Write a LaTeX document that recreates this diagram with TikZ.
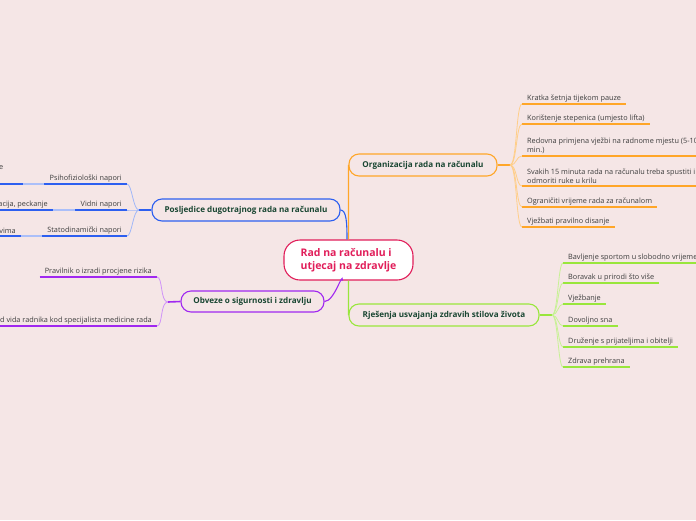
\documentclass[tikz,border=0pt]{standalone}
\usepackage{fontspec}
\setmainfont{Open Sans}
\usepackage{tikz}

\definecolor{bgpink}{RGB}{245,230,230}
\definecolor{orng}{RGB}{255,166,40}
\definecolor{lime}{RGB}{153,230,60}
\definecolor{blu}{RGB}{45,95,240}
\definecolor{purp}{RGB}{160,40,240}
\definecolor{crim}{RGB}{225,30,90}
\definecolor{topictxt}{RGB}{25,70,50}
\definecolor{leaftxt}{RGB}{60,60,60}

\begin{document}
\begin{tikzpicture}[x=1pt,y=-1pt]
    \tikzstyle{topic}=[draw, line width=1.1pt, rounded corners=10pt, minimum height=22pt, fill=bgpink, text=topictxt, font=\fontsize{8.1}{9}\selectfont\bfseries]
    \tikzstyle{leaf}=[inner xsep=5pt, inner ysep=2pt, text=leaftxt, font=\fontsize{7.3}{9.5}\selectfont]
    \tikzstyle{fan}=[line width=0.8pt]

    \useasboundingbox (0,0) rectangle (696,520);
    \clip (0,0) rectangle (696,520);
    \fill[bgpink] (0,0) rectangle (696,520);

    \node[draw=crim, fill=white, line width=1.1pt, rounded corners=16pt, minimum width=129pt, minimum height=40pt,
          text=crim, align=left, font=\fontsize{10.5}{13}\selectfont\bfseries] (root) at (348.5,260) {Rad na računalu i\\utjecaj na zdravlje};

    \node[topic, draw=orng, minimum width=148pt] (torg) at (423,165) {Organizacija rada na računalu};
    \node[topic, draw=lime, minimum width=190pt] (tzdr) at (444,315) {Rješenja usvajanja zdravih stilova života};
    \node[topic, draw=blu, minimum width=188pt] (tpos) at (246,210) {Posljedice dugotrajnog rada na računalu};
    \node[topic, draw=purp, minimum width=143pt, minimum height=21pt] (tobv) at (252.5,301.5) {Obveze o sigurnosti i zdravlju};

    \draw[orng, line width=1.1pt] (root.north) -- (torg.west);
    \draw[lime, line width=1.1pt] (root.south) -- (tzdr.west);
    \draw[blu, line width=1.1pt] (tpos.east) .. controls +(6,0) and +(0,-16) .. ([xshift=-1.5pt]root.north);
    \draw[purp, line width=1.1pt] (tobv.east) .. controls +(10,0) and +(0,-10) .. ([xshift=-6pt]root.south);

    % organizacija
    \coordinate (jorg) at (510,165);
    \draw[orng, line width=1.6pt] (torg.east) -- (jorg);
    \foreach \i/\y/\t in {1/104/{Kratka šetnja tijekom pauze},2/124/{Korištenje stepenica (umjesto lifta)},
        3/156/{Redovna primjena vježbi na radnome mjestu (5-10\\min.)},4/186/{Svakih 15 minuta rada na računalu treba spustiti i\\odmoriti ruke u krilu},
        5/207/{Ograničiti vrijeme rada za računalom},6/227/{Vježbati pravilno disanje}}
      {\node[leaf, align=left, anchor=south west] (o\i) at (522,\y) {\t};
       \draw[orng, line width=1.8pt] (o\i.south west) -- (o\i.south east);
       \draw[fan, orng!55] (jorg) .. controls +(7,0) and +(-6,0) .. (o\i.south west);}

    % zdravi stilovi
    \coordinate (jzdr) at (552,315);
    \draw[lime, line width=1.6pt] (tzdr.east) -- (jzdr);
    \foreach \i/\y/\t in {1/263/{Bavljenje sportom u slobodno vrijeme},2/283/{Boravak u prirodi što više},3/304/{Vježbanje},
        4/326/{Dovoljno sna},5/347/{Druženje s prijateljima i obitelji},6/367/{Zdrava prehrana}}
      {\node[leaf, anchor=south west] (z\i) at (563,\y) {\t};
       \draw[lime, line width=1.8pt] (z\i.south west) -- (z\i.south east);
       \draw[fan, lime!55] (jzdr) .. controls +(6,0) and +(-5,0) .. (z\i.south west);}

    % posljedice
    \coordinate (jpos) at (139,210);
    \draw[blu, line width=1.6pt] (tpos.west) -- (jpos);
    \foreach \i/\y/\t in {1/184/{Psihofiziološki napori},2/210/{Vidni napori},3/236/{Statodinamički napori}}
      {\node[leaf, align=right, anchor=south east] (p\i) at (127,\y) {\t};
       \draw[blu, line width=1.8pt] (p\i.south west) -- (p\i.south east);
       \draw[fan, blu!45] (jpos) .. controls +(-6,0) and +(5,0) .. (p\i.south east);}
    \node[leaf, anchor=base east, inner xsep=0pt] (g1) at (3.5,169) {e};
    \coordinate (g1u) at (23,184);
    \draw[blu, line width=1.8pt] (0,184) -- (g1u);
    \node[leaf, anchor=south east] (g2) at (53,210) {acija, peckanje};
    \node[leaf, anchor=south east] (g3) at (21,236) {vima};
    \foreach \g in {2,3} {\draw[blu, line width=1.8pt] (g\g.south west) -- (g\g.south east);}
    \draw[fan, blu!40, line width=1.6pt] (p1.south west) -- (g1u);
    \draw[fan, blu!40, line width=1.6pt] (p2.south west) -- (g2.south east);
    \draw[fan, blu!40, line width=1.6pt] (p3.south west) -- (g3.south east);

    % obveze
    \coordinate (jobv) at (168,302);
    \draw[purp, line width=1.6pt] (tobv.west) -- (jobv);
    \foreach \i/\y/\t in {1/277/{Pravilnik o izradi procjene rizika},2/326/{d vida radnika kod specijalista medicine rada}}
      {\node[leaf, anchor=south east] (v\i) at (157,\y) {\t};
       \draw[purp, line width=1.8pt] (v\i.south west) -- (v\i.south east);
       \draw[fan, purp!50] (jobv) .. controls +(-8,0) and +(6,0) .. (v\i.south east);}
  \end{tikzpicture}
\end{document}
